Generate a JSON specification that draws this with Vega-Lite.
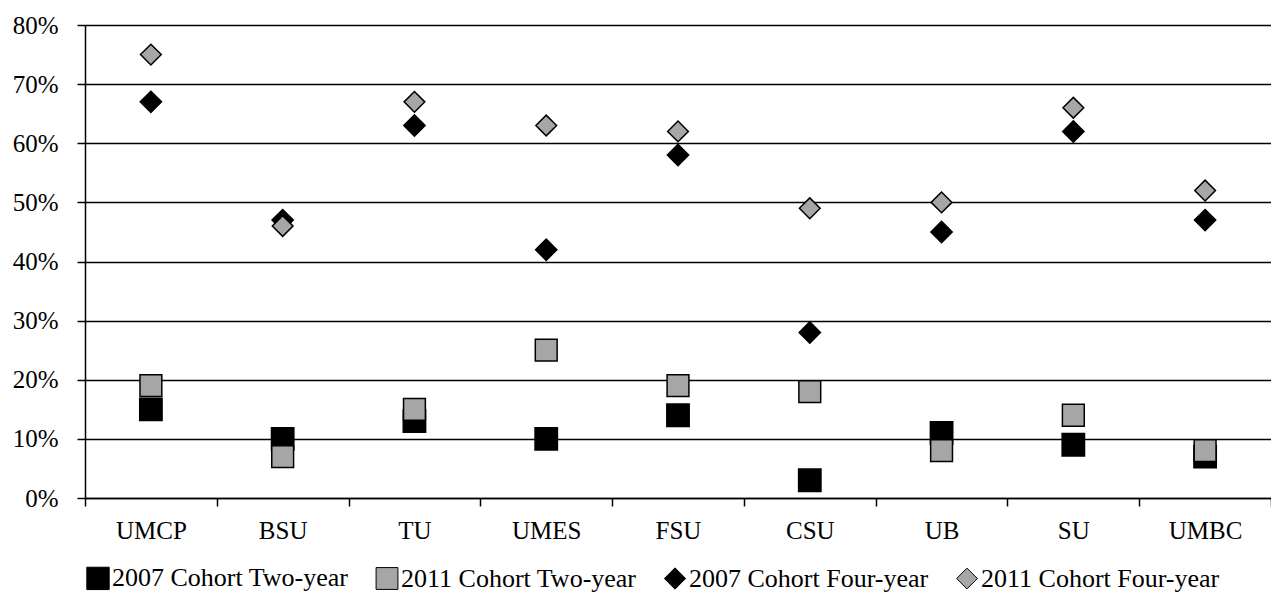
{
  "$schema": "https://vega.github.io/schema/vega-lite/v6.json",
  "autosize": {"type": "none"},
  "padding": {"left": 85, "top": 25, "right": 0, "bottom": 96},
  "width": 1186,
  "height": 473,
  "background": "white",
  "config": {"view": {"stroke": null}, "font": "Liberation Serif"},
  "data": {"values": [
    {"school": "UMCP", "series": "2007 Cohort Two-year", "value": 0.15},
    {"school": "BSU", "series": "2007 Cohort Two-year", "value": 0.10},
    {"school": "TU", "series": "2007 Cohort Two-year", "value": 0.13},
    {"school": "UMES", "series": "2007 Cohort Two-year", "value": 0.10},
    {"school": "FSU", "series": "2007 Cohort Two-year", "value": 0.14},
    {"school": "CSU", "series": "2007 Cohort Two-year", "value": 0.03},
    {"school": "UB", "series": "2007 Cohort Two-year", "value": 0.11},
    {"school": "SU", "series": "2007 Cohort Two-year", "value": 0.09},
    {"school": "UMBC", "series": "2007 Cohort Two-year", "value": 0.07},
    {"school": "UMCP", "series": "2011 Cohort Two-year", "value": 0.19},
    {"school": "BSU", "series": "2011 Cohort Two-year", "value": 0.07},
    {"school": "TU", "series": "2011 Cohort Two-year", "value": 0.15},
    {"school": "UMES", "series": "2011 Cohort Two-year", "value": 0.25},
    {"school": "FSU", "series": "2011 Cohort Two-year", "value": 0.19},
    {"school": "CSU", "series": "2011 Cohort Two-year", "value": 0.18},
    {"school": "UB", "series": "2011 Cohort Two-year", "value": 0.08},
    {"school": "SU", "series": "2011 Cohort Two-year", "value": 0.14},
    {"school": "UMBC", "series": "2011 Cohort Two-year", "value": 0.08},
    {"school": "UMCP", "series": "2007 Cohort Four-year", "value": 0.67},
    {"school": "BSU", "series": "2007 Cohort Four-year", "value": 0.47},
    {"school": "TU", "series": "2007 Cohort Four-year", "value": 0.63},
    {"school": "UMES", "series": "2007 Cohort Four-year", "value": 0.42},
    {"school": "FSU", "series": "2007 Cohort Four-year", "value": 0.58},
    {"school": "CSU", "series": "2007 Cohort Four-year", "value": 0.28},
    {"school": "UB", "series": "2007 Cohort Four-year", "value": 0.45},
    {"school": "SU", "series": "2007 Cohort Four-year", "value": 0.62},
    {"school": "UMBC", "series": "2007 Cohort Four-year", "value": 0.47},
    {"school": "UMCP", "series": "2011 Cohort Four-year", "value": 0.75},
    {"school": "BSU", "series": "2011 Cohort Four-year", "value": 0.46},
    {"school": "TU", "series": "2011 Cohort Four-year", "value": 0.67},
    {"school": "UMES", "series": "2011 Cohort Four-year", "value": 0.63},
    {"school": "FSU", "series": "2011 Cohort Four-year", "value": 0.62},
    {"school": "CSU", "series": "2011 Cohort Four-year", "value": 0.49},
    {"school": "UB", "series": "2011 Cohort Four-year", "value": 0.50},
    {"school": "SU", "series": "2011 Cohort Four-year", "value": 0.66},
    {"school": "UMBC", "series": "2011 Cohort Four-year", "value": 0.52}
  ]},
  "mark": {"type": "point", "filled": true, "opacity": 1, "stroke": "black", "strokeWidth": 1.5},
  "encoding": {
    "x": {
      "field": "school", "type": "nominal",
      "sort": ["UMCP", "BSU", "TU", "UMES", "FSU", "CSU", "UB", "SU", "UMBC"],
      "scale": {"type": "band", "paddingInner": 0, "paddingOuter": 0},
      "axis": {
        "title": null, "labelAngle": 0, "tickBand": "extent",
        "labelFont": "Liberation Serif", "labelFontSize": 25, "labelColor": "black",
        "labelPadding": 12, "tickSize": 8, "tickColor": "black", "tickWidth": 1.5,
        "domainColor": "black", "domainWidth": 1.5, "grid": false
      }
    },
    "y": {
      "field": "value", "type": "quantitative",
      "scale": {"domain": [0, 0.8], "nice": false},
      "axis": {
        "title": null, "format": ".0%", "values": [0, 0.1, 0.2, 0.3, 0.4, 0.5, 0.6, 0.7, 0.8],
        "labelFont": "Liberation Serif", "labelFontSize": 25, "labelColor": "black",
        "labelPadding": 19, "tickSize": 8, "tickColor": "black", "tickWidth": 1.5,
        "domainColor": "black", "domainWidth": 1.5,
        "grid": true, "gridColor": "black", "gridWidth": 1.5, "gridOpacity": 1
      }
    },
    "color": {
      "field": "series", "type": "nominal",
      "scale": {
        "domain": ["2007 Cohort Two-year", "2011 Cohort Two-year", "2007 Cohort Four-year", "2011 Cohort Four-year"],
        "range": ["#000000", "#a6a6a6", "#000000", "#a6a6a6"]
      },
      "legend": {
        "title": null, "orient": "none", "legendX": 0, "legendY": 540,
        "direction": "horizontal", "columns": 4,
        "labelFont": "Liberation Serif", "labelFontSize": 26, "labelColor": "black",
        "labelLimit": 0, "labelOffset": 1, "columnPadding": 25,
        "symbolSize": 270, "symbolStrokeColor": "black", "symbolStrokeWidth": 1,
        "symbolOpacity": 1
      }
    },
    "shape": {
      "field": "series", "type": "nominal",
      "scale": {
        "domain": ["2007 Cohort Two-year", "2011 Cohort Two-year", "2007 Cohort Four-year", "2011 Cohort Four-year"],
        "range": ["square", "square", "diamond", "diamond"]
      }
    },
    "size": {
      "field": "series", "type": "nominal",
      "scale": {
        "domain": ["2007 Cohort Two-year", "2011 Cohort Two-year", "2007 Cohort Four-year", "2011 Cohort Four-year"],
        "range": [500, 430, 500, 460]
      },
      "legend": null
    }
  }
}
